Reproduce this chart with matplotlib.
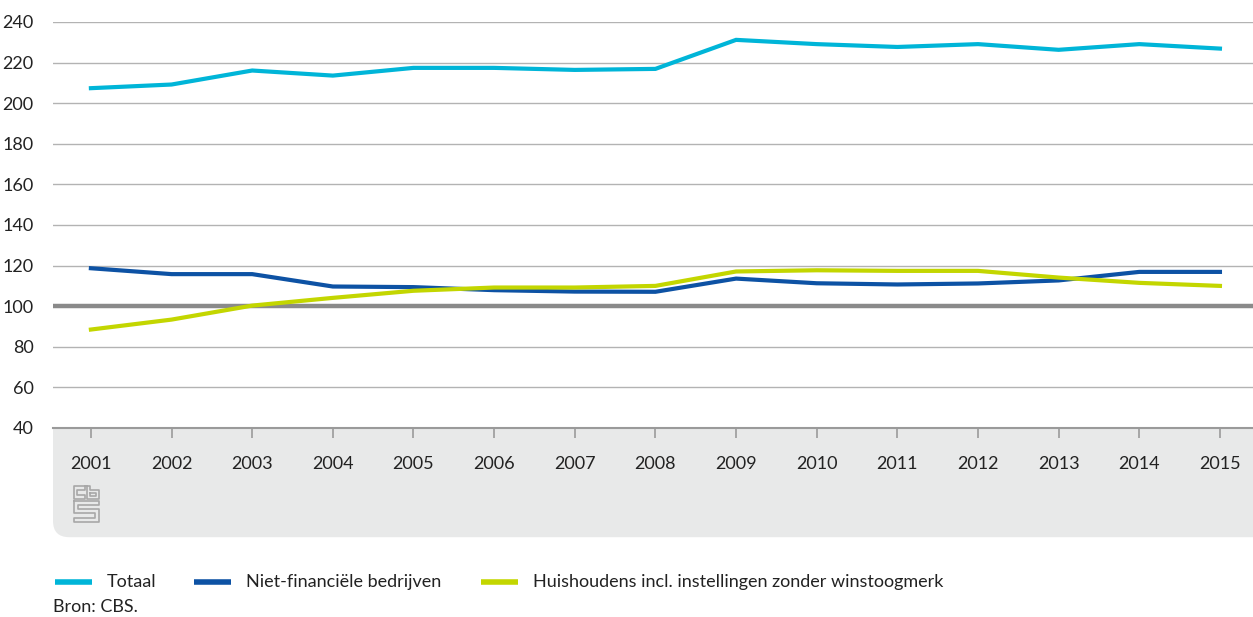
import numpy as np
import matplotlib.pyplot as plt
from matplotlib.patches import FancyBboxPatch
from matplotlib.lines import Line2D

plt.rcParams["font.family"] = ["Lato", "DejaVu Sans"]

YEARS = list(range(2001, 2016))
TOTAAL = [207.4, 209.2, 216.1, 213.6, 217.4, 217.4, 216.4, 216.9, 231.2, 229.1,
          227.7, 229.1, 226.3, 229.1, 226.9]
NIET_FIN = [118.7, 115.8, 115.8, 109.7, 109.4, 107.9, 107.2, 107.1, 113.6, 111.3,
            110.7, 111.2, 112.7, 116.9, 116.9]
HUISHOUDENS = [88.5, 93.4, 100.3, 104.1, 107.6, 109.2, 109.2, 110.0, 117.1, 117.7,
               117.4, 117.4, 114.1, 111.5, 110.0]
LABELS = ["Totaal", "Niet-financiële bedrijven",
          "Huishoudens incl. instellingen zonder winstoogmerk"]
COLORS = ["#00b5d8", "#0d52a4", "#c3d600"]

W, H = 1253, 617
fig = plt.figure(figsize=(W / 100, H / 100), dpi=100)
ax = fig.add_axes([53 / W, 1 - 428 / H, 1 - 53 / W, (428 - 22) / H])

# grey band under the x axis
band = FancyBboxPatch((53 / W + 0.01, 1 - 537 / H + 0.02),
                      1.2, 0.3,
                      boxstyle="round,pad=0.01,rounding_size=0.013",
                      transform=fig.transFigure, facecolor="#e8e9e9",
                      edgecolor="none", zorder=-5, mutation_aspect=W / H)
fig.patches.append(band)

for vals, col, lab in zip([TOTAAL, NIET_FIN, HUISHOUDENS], COLORS, LABELS):
    ax.plot(YEARS, vals, color=col, lw=3, label=lab, zorder=3,
            solid_joinstyle="miter")

ax.set_ylim(40, 240)
ax.set_xlim(2000.53, 2015.41)
ax.set_yticks(np.arange(40, 241, 20))
ax.set_xticks(YEARS)
ax.grid(axis="y", color="#b3b3b3", lw=1, zorder=0)
ax.axhline(100, color="#8a8a8a", lw=3.2, zorder=2)
for s in ["top", "right", "left"]:
    ax.spines[s].set_visible(False)
ax.spines["bottom"].set_color("#9a9a9a")
ax.spines["bottom"].set_linewidth(1.5)
ax.tick_params(axis="y", length=0, pad=14, labelsize=13, labelcolor="#222222")
ax.tick_params(axis="x", direction="out", length=7.5, width=1.2, color="#9a9a9a",
               pad=13, labelsize=13, labelcolor="#222222")

# cbs logo (simplified)
lax = fig.add_axes([73 / W, 1 - 523 / H, 27 / W, 38 / H])
lax.set_xlim(0, 27)
lax.set_ylim(0, 38)
lax.axis("off")
lc = "#a8a8a8"
segs = [
    # c
    [(12, 37), (1, 37), (1, 24), (12, 24), (12, 28), (4, 28), (4, 33), (12, 33), (12, 37)],
    # b
    [(14, 37), (17, 37), (17, 33), (26, 33), (26, 24), (14, 24), (14, 37)],
    [(17, 30), (23, 30), (23, 27), (17, 27), (17, 30)],
    # s
    [(1, 22), (26, 22), (26, 18), (5, 18), (5, 14), (26, 14), (26, 1), (1, 1),
     (1, 5), (22, 5), (22, 10), (1, 10), (1, 22)],
]
for sg in segs:
    xs, ys = zip(*sg)
    lax.plot(xs, ys, color=lc, lw=1.2)

# legend, placed entry by entry
leg_y = 1 - 582 / H
for lab, col, hx in zip(LABELS, COLORS, [55, 194, 481]):
    fig.add_artist(Line2D([hx / W, (hx + 37) / W], [leg_y, leg_y], color=col,
                          lw=4, transform=fig.transFigure, solid_capstyle="butt"))
    fig.text((hx + 52) / W, leg_y, lab, fontsize=13, color="#222222",
             va="center", ha="left")
fig.text(53 / W, 1 - 607 / H, "Bron: CBS.", fontsize=13, color="#222222",
         va="center", ha="left")

fig.savefig("out.png", dpi=100)
